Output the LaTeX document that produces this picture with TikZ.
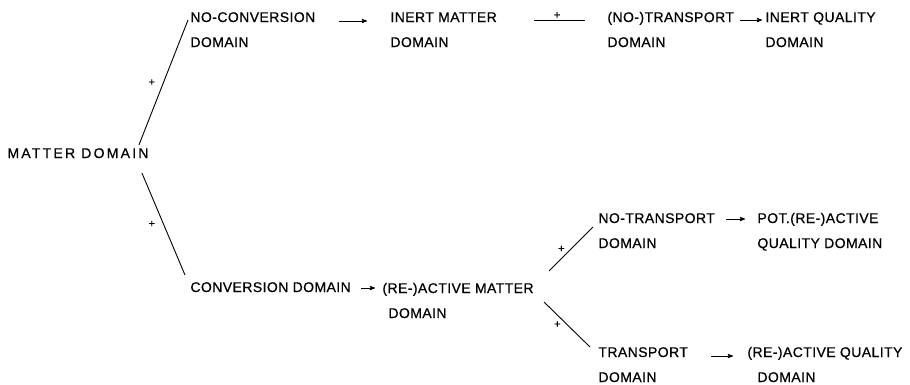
\documentclass[tikz,border=0pt]{standalone}
\usepackage{fontspec}
\setmainfont[LetterSpace=3,FakeBold=0.6]{Liberation Sans}
\newfontfamily\widefont[LetterSpace=16,FakeBold=0.6]{Liberation Sans}
\usetikzlibrary{arrows}

\begin{document}
\begin{tikzpicture}[x=1pt,y=-1pt,>=stealth',line width=0.9pt,
                    font=\fontsize{14}{25}\selectfont]
  \tikzstyle{domainbox}=[anchor=base west,align=left,inner sep=0pt]
  \tikzstyle{plussign}=[font=\fontsize{11}{11}\selectfont,inner sep=1pt]
  \useasboundingbox (0,0) rectangle (910,384);

  % base = baseline of the last line
  \node[domainbox] (1)  at (7,158)   {\widefont MATTER DOMAIN};
  \node[domainbox] (2)  at (190,47)  {NO-CONVERSION\\DOMAIN};
  \node[domainbox] (3)  at (390,47)  {INERT MATTER\\DOMAIN};
  \node[domainbox] (4)  at (607,47)  {(NO-)TRANSPORT\\DOMAIN};
  \node[domainbox] (5)  at (765,47)  {INERT QUALITY\\DOMAIN};
  \node[domainbox] (6)  at (190,292) {CONVERSION DOMAIN};
  \node[domainbox] (7)  at (382,318) {(RE-)ACTIVE MATTER\\\hspace*{6pt}DOMAIN};
  \node[domainbox] (8)  at (598,248) {NO-TRANSPORT\\DOMAIN};
  \node[domainbox] (9)  at (757,248) {POT.(RE-)ACTIVE\\QUALITY DOMAIN};
  \node[domainbox] (10) at (598,382) {TRANSPORT\\DOMAIN};
  \node[domainbox] (11) at (747,382) {(RE-)ACTIVE QUALITY\\\hspace*{10pt}DOMAIN};

  % branches
  \draw
        ([xshift=-10pt,yshift=13pt]1.base east) edge node[plussign,left=7pt] {+}
        ([xshift=-2pt,yshift=27pt]2.base west)
        ([xshift=-7pt,yshift=-15pt]1.base east) edge node[plussign,left=7pt] {+}
        ([xshift=-5pt,yshift=17pt]6.base west)
        ([xshift=15pt,yshift=47pt]7.base east) edge node[plussign,left=5pt] {+}
        ([xshift=-5pt,yshift=21pt]8.base west)
        ([xshift=10pt,yshift=16pt]7.base east) edge node[plussign,left=5pt] {+}
        ([xshift=-8pt,yshift=35pt]10.base west)
        ([xshift=37pt,yshift=27pt]3.base east) edge node[plussign,above=0pt,pos=0.45] {+}
        ([xshift=-22pt,yshift=27pt]4.base west);

  % arrows
  \draw
        ([xshift=23pt,yshift=26pt]2.base east) edge[->] ([xshift=-23pt,yshift=26pt]3.base west)
        ([xshift=6pt,yshift=27pt]4.base east)  edge[->] ([xshift=-3pt,yshift=27pt]5.base west)
        ([xshift=10pt,yshift=4pt]6.base east)  edge[->] ([xshift=-7pt,yshift=30pt]7.base west)
        ([xshift=11pt,yshift=29pt]8.base east) edge[->] ([xshift=-12pt,yshift=29pt]9.base west)
        ([xshift=23pt,yshift=26pt]10.base east) edge[->] ([xshift=-14pt,yshift=26pt]11.base west);

\end{tikzpicture}
\end{document}
